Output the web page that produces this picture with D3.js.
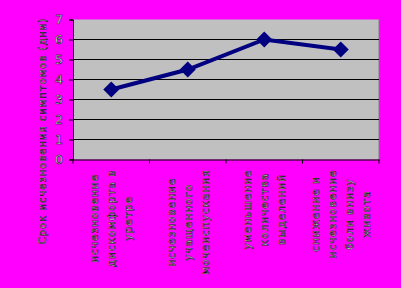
<!DOCTYPE html>
<html lang="ru">
<head>
<meta charset="UTF-8" />
<title>srok</title>
<script src="https://cdn.jsdelivr.net/npm/d3@7"></script>
<style>
  html, body { margin: 0; padding: 0; background: #ff00ff; }
  text { font-family: "DejaVu Sans", sans-serif; fill: #fff; stroke: #000; stroke-width: 0.5px; }
</style>
</head>
<body>
<div id="wrapper"></div>
<script>
  const categories = [
    ["исчезновение", "дискомфорта в", "уретре"],
    ["исчезновение", "учащенного", "мочеиспускания"],
    ["уменьшение", "количества", "выделений"],
    ["снижение и", "исчезновение", "боли внизу", "живота"],
  ];
  const days = [3.5, 4.5, 6, 5.5];
  const yTicks = [0, 1, 2, 3, 4, 5, 6, 7];
  const yTitle = "Срок исчезновения симптомов (дни)";

  const dimensions = {
    width: 401,
    height: 288,
    margin: { left: 73, right: 22, top: 19.5, bottom: 128.5 },
  };
  dimensions.boundedWidth = dimensions.width - dimensions.margin.left - dimensions.margin.right;
  dimensions.boundedHeight = dimensions.height - dimensions.margin.top - dimensions.margin.bottom;

  const svg = d3.select("#wrapper").append("svg")
    .attr("width", dimensions.width)
    .attr("height", dimensions.height)
    .style("display", "block");

  const bounds = svg.append("g")
    .attr("transform", `translate(${dimensions.margin.left},${dimensions.margin.top})`);

  const xScale = d3.scaleBand()
    .domain(d3.range(categories.length))
    .range([0, dimensions.boundedWidth]);
  const yScale = d3.scaleLinear()
    .domain([0, 7])
    .range([dimensions.boundedHeight, 0]);

  // plot area
  bounds.append("rect")
    .attr("width", dimensions.boundedWidth)
    .attr("height", dimensions.boundedHeight)
    .attr("fill", "#c0c0c0");
  bounds.append("line")
    .attr("x1", dimensions.boundedWidth).attr("x2", dimensions.boundedWidth)
    .attr("y1", 0).attr("y2", dimensions.boundedHeight)
    .attr("stroke", "#808080");

  // gridlines
  bounds.selectAll(".grid")
    .data(yTicks.filter(d => d > 0 && d < 7))
    .join("line")
    .attr("x1", 0).attr("x2", dimensions.boundedWidth)
    .attr("y1", d => yScale(d)).attr("y2", d => yScale(d))
    .attr("stroke", "#000")
    .attr("stroke-width", 1);

  // y axis
  const yAxis = bounds.append("g")
    .call(d3.axisLeft(yScale).tickValues(yTicks).tickSize(4).tickPadding(6).tickFormat(d3.format("d")));
  yAxis.select(".domain").attr("stroke", "#000");
  yAxis.selectAll("text")
    .style("font-size", "13px")
    .attr("font-family", null);

  // x axis
  const xAxis = bounds.append("g")
    .attr("transform", `translate(0,${dimensions.boundedHeight})`)
    .call(d3.axisBottom(xScale).tickSize(0).tickFormat(""));
  xAxis.select(".domain").attr("stroke", "#000");
  xAxis.selectAll(".sep")
    .data(d3.range(categories.length + 1))
    .join("line")
    .attr("x1", d => d * xScale.bandwidth()).attr("x2", d => d * xScale.bandwidth())
    .attr("y1", 0).attr("y2", 4)
    .attr("stroke", "#000");

  // category labels, rotated
  const lineGap = 17;
  categories.forEach((lines, i) => {
    const cx = dimensions.margin.left + xScale(i) + xScale.bandwidth() / 2;
    const g = svg.append("g");
    const texts = g.selectAll("text")
      .data(lines)
      .join("text")
      .style("font-size", "10.5px")
      .style("letter-spacing", "1px")
      .attr("text-anchor", "middle")
      .attr("dominant-baseline", "central")
      .text(d => d);
    const maxLen = d3.max(texts.nodes(), n => n.getComputedTextLength());
    const cy = dimensions.margin.top + dimensions.boundedHeight + 10 + maxLen / 2;
    texts.attr("transform", (d, j) => {
      const x = cx + (j - (lines.length - 1) / 2) * lineGap;
      return `translate(${x},${cy}) rotate(-90)`;
    });
  });

  // y title
  svg.append("text")
    .attr("transform", "translate(42,131) rotate(-90)")
    .attr("text-anchor", "middle")
    .attr("dominant-baseline", "central")
    .style("font-size", "10px")
    .style("letter-spacing", "1px")
    .text(yTitle);

  // line + markers
  const line = d3.line()
    .x((d, i) => xScale(i) + xScale.bandwidth() / 2)
    .y(d => yScale(d));
  bounds.append("path")
    .datum(days)
    .attr("d", line)
    .attr("fill", "none")
    .attr("stroke", "#000080")
    .attr("stroke-width", 4);
  bounds.selectAll(".marker")
    .data(days)
    .join("path")
    .attr("d", d3.symbol(d3.symbolSquare, 128))
    .attr("transform", (d, i) => `translate(${xScale(i) + xScale.bandwidth() / 2},${yScale(d)}) rotate(45)`)
    .attr("fill", "#000080");
</script>
</body>
</html>
